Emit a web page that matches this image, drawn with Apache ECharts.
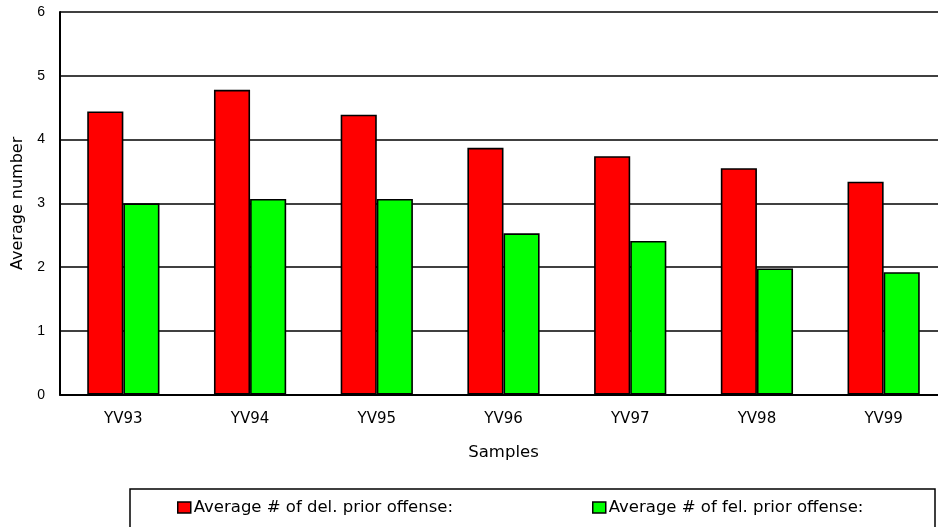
<!DOCTYPE html>
<html>
<head>
<meta charset="utf-8">
<script src="https://cdn.jsdelivr.net/npm/echarts@6/dist/echarts.min.js"></script>
<style>html,body{margin:0;padding:0;background:#fff;}#c{width:938px;height:527px;}</style>
</head>
<body>
<div id="c"></div>
<script>
var categories = ['YV93','YV94','YV95','YV96','YV97','YV98','YV99'];
var delPrior = [4.44, 4.78, 4.39, 3.87, 3.74, 3.55, 3.34];
var felPrior = [3.00, 3.07, 3.07, 2.53, 2.41, 1.98, 1.92];
var yTicks = [0,1,2,3,4,5,6];
var seriesNames = ['Average # of del. prior offense:', 'Average # of fel. prior offense:'];

var chart = echarts.init(document.getElementById('c'));
var dv = '"DejaVu Sans", Verdana, sans-serif';
var lib = '"Liberation Sans", Arial, sans-serif';
var legendCommon = {
  top: 499, padding: 0, itemWidth: 13, itemHeight: 11, icon: 'rect',
  itemStyle: {borderColor: '#000', borderWidth: 1.5},
  textStyle: {color: '#000', fontSize: 16.5, fontFamily: dv, padding: [0, 0, 0, -2]}
};
chart.setOption({
  animation: false,
  backgroundColor: '#fff',
  grid: {left: 60, right: -9, top: 12, bottom: 132.3, containLabel: false, outerBoundsMode: 'none'},
  xAxis: {
    type: 'category',
    data: categories,
    name: 'Samples',
    nameLocation: 'middle',
    nameGap: 50,
    nameTextStyle: {color: '#000', fontSize: 16.5, fontFamily: dv},
    axisLine: {lineStyle: {color: '#000', width: 2}},
    axisTick: {inside: true, length: 4, lineStyle: {color: '#000', width: 1}},
    axisLabel: {color: '#000', fontSize: 15, fontFamily: dv, margin: 17}
  },
  yAxis: {
    type: 'value',
    min: yTicks[0],
    max: yTicks[yTicks.length - 1],
    interval: 1,
    name: 'Average number',
    nameLocation: 'middle',
    nameGap: 34,
    nameTextStyle: {color: '#000', fontSize: 16, fontFamily: dv},
    axisLine: {show: true, lineStyle: {color: '#000', width: 2}},
    axisTick: {show: false},
    axisLabel: {color: '#000', fontSize: 14, fontFamily: lib, margin: 15},
    splitLine: {show: true, lineStyle: {color: '#000', width: 1.6}}
  },
  legend: [
    Object.assign({data: [seriesNames[0]], left: 177}, legendCommon),
    Object.assign({data: [seriesNames[1]], left: 592}, legendCommon)
  ],
  graphic: [
    {type: 'rect', shape: {x: 130, y: 489, width: 805, height: 60}, style: {fill: 'none', stroke: '#000', lineWidth: 1.5}, z: -1}
  ],
  series: [
    {name: seriesNames[0], type: 'bar', data: delPrior, barGap: '0%', barCategoryGap: '43%',
     itemStyle: {color: '#ff0000', borderColor: '#000', borderWidth: 1.6}},
    {name: seriesNames[1], type: 'bar', data: felPrior, barGap: '0%', barCategoryGap: '43%',
     itemStyle: {color: '#00ff00', borderColor: '#000', borderWidth: 1.6}}
  ]
});
</script>
</body>
</html>
